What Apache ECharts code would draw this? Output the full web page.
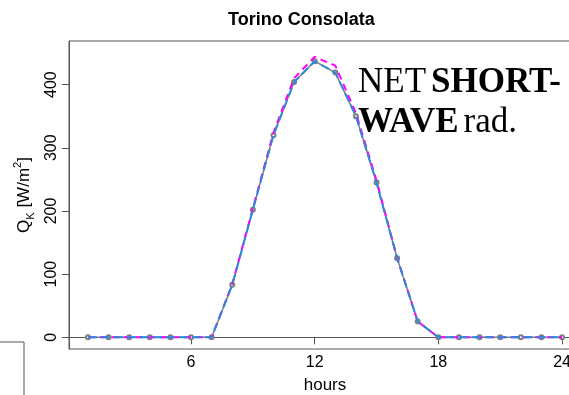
<!DOCTYPE html>
<html>
<head>
<meta charset="utf-8">
<script src="https://cdn.jsdelivr.net/npm/echarts@6/dist/echarts.min.js"></script>
<style>
  html, body { margin: 0; padding: 0; background: #fff; }
  #chart { width: 569px; height: 395px; }
</style>
</head>
<body>
<div id="chart"></div>
<script>
// hours of the day
const hours = [1, 2, 3, 4, 5, 6, 7, 8, 9, 10, 11, 12, 13, 14, 15, 16, 17, 18, 19, 20, 21, 22, 23, 24];
// net short-wave radiation, three curves
const obsValues  = [0, 0, 0, 0, 0, 0, 0, 83, 202, 320, 404, 437, 419, 350, 245, 125, 25, 0, 0, 0, 0, 0, 0, 0];
const blueValues = [0, 0, 0, 0, 0, 0, 0, 83, 202, 320, 404, 437, 419, 350, 245, 125, 25, 0, 0, 0, 0, 0, 0, 0];
const pinkValues = [0, 0, 0, 0, 0, 0, 0, 84, 204, 324, 410, 444, 430, 355, 248, 126, 25, 0, 0, 0, 0, 0, 0, 0];
const xTicks = [6, 12, 18, 24];
const yTicks = [0, 100, 200, 300, 400];

const pairs = vals => hours.map((h, i) => [h, vals[i]]);

const chart = echarts.init(document.getElementById('chart'));
const option = {
  animation: false,
  title: [{
    text: 'Torino Consolata',
    left: 223,
    top: 6,
    textStyle: { fontFamily: 'Liberation Sans', fontWeight: 'bold', fontSize: 18, color: '#000' }
  }, {
    text: '{r|NET} {b|SHORT-}\n{b|WAVE} {r|rad.}',
    left: 353,
    top: 58,
    textStyle: {
      fontWeight: 'normal',
      rich: {
        r: { fontFamily: 'Liberation Serif', fontSize: 35, fontWeight: 'normal', color: '#000', lineHeight: 40 },
        b: { fontFamily: 'Liberation Serif', fontSize: 35, fontWeight: 'bold', color: '#000', lineHeight: 40 }
      }
    }
  }],
  grid: { left: 69, top: 41, width: 512, height: 308, show: true, borderColor: '#555', borderWidth: 1, outerBoundsMode: 'none' },
  xAxis: {
    type: 'value',
    min: 0.08,
    max: 24.92,
    name: 'hours',
    nameLocation: 'middle',
    nameGap: 28,
    nameTextStyle: { fontFamily: 'Liberation Sans', fontSize: 17, color: '#000' },
    axisLine: { show: true, lineStyle: { color: '#555' } },
    axisTick: { show: true, length: 7, customValues: xTicks, lineStyle: { color: '#555' } },
    axisLabel: { customValues: xTicks, fontFamily: 'Liberation Sans', fontSize: 16, color: '#000', margin: 6 },
    splitLine: { show: false }
  },
  yAxis: {
    type: 'value',
    min: -18.5,
    max: 469,
    name: '{t|Q}{s|K}{t| [W/m}{p|2}{t|]}',
    nameLocation: 'middle',
    nameGap: 33,
    nameRotate: 90,
    nameTextStyle: {
      rich: {
        t: { fontFamily: 'Liberation Sans', fontSize: 17, color: '#000', lineHeight: 24, verticalAlign: 'middle' },
        s: { fontFamily: 'Liberation Sans', fontSize: 11, color: '#000', lineHeight: 24, verticalAlign: 'bottom', padding: [9, 0, 0, 0] },
        p: { fontFamily: 'Liberation Sans', fontSize: 11, color: '#000', lineHeight: 24, verticalAlign: 'top', padding: [0, 0, 9, 0] }
      }
    },
    axisLine: { show: true, lineStyle: { color: '#555' } },
    axisTick: { show: true, length: 7, customValues: yTicks, lineStyle: { color: '#555' } },
    axisLabel: { customValues: yTicks, rotate: 90, fontFamily: 'Liberation Sans', fontSize: 16, color: '#000', margin: 9 },
    splitLine: { show: false }
  },
  series: [{
    type: 'line',
    data: pairs(obsValues),
    symbol: 'emptyCircle',
    symbolSize: 4,
    lineStyle: { color: '#7f7f7f', width: 1.5 },
    itemStyle: { color: '#7f7f7f', borderWidth: 1 },
    z: 2
  }, {
    type: 'line',
    data: pairs(pinkValues),
    symbol: 'none',
    lineStyle: { color: '#ff00ff', width: 2, type: [7, 5] },
    z: 3
  }, {
    type: 'line',
    data: pairs(blueValues),
    symbol: 'none',
    lineStyle: { color: '#2a8ad8', width: 2, type: [9, 4] },
    z: 4
  }],
  graphic: [{
    type: 'polyline',
    shape: { points: [[0, 342], [24, 342], [24, 400]] },
    style: { stroke: '#555', lineWidth: 1, fill: null }
  }]
};
chart.setOption(option);
</script>
</body>
</html>
